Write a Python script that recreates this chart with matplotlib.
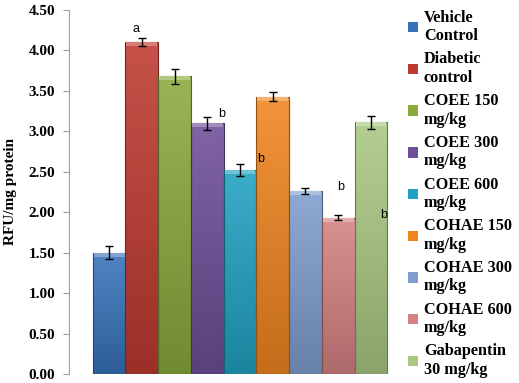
import numpy as np
import matplotlib
matplotlib.use("Agg")
import matplotlib.pyplot as plt
from matplotlib.colors import to_rgb

# data
groups = ["Vehicle\nControl", "Diabetic\ncontrol", "COEE 150\nmg/kg", "COEE 300\nmg/kg",
          "COEE 600\nmg/kg", "COHAE 150\nmg/kg", "COHAE 300\nmg/kg", "COHAE 600\nmg/kg",
          "Gabapentin\n30 mg/kg"]
values = [1.50, 4.10, 3.68, 3.10, 2.52, 3.43, 2.26, 1.93, 3.11]
errors = [0.08, 0.05, 0.09, 0.08, 0.07, 0.06, 0.04, 0.03, 0.08]
colors = ["#3873BA", "#BE3A30", "#8AAA3C", "#6E4E98", "#21A2C2",
          "#F08520", "#7E9ECE", "#D48282", "#AAC883"]

# significance letters: (text, x position in bar units, y value)
sig_labels = ["a", "b", "b", "b", "b"]
sig_x = [0.82, 3.45, 4.62, 7.06, 8.38]
sig_y = [4.26, 3.21, 2.66, 2.31, 1.97]

yticks = np.arange(0, 4.51, 0.5)

serif = "Liberation Serif"

fig = plt.figure(figsize=(5.19, 3.83), dpi=100)
ax = fig.add_axes([0.133, 0.0235, 0.659, 0.9505])

x = np.arange(len(values))
bars = ax.bar(x, values, width=1.0, color=colors, label=groups, zorder=2)

# fake the excel bevel look: vertical gradient clipped to every bar
for b, c in zip(bars, colors):
    rgb = np.array(to_rgb(c))
    t = np.linspace(0, 1, 64)[:, None]
    light = rgb + (1 - rgb) * 0.12
    dark = rgb * 0.82
    grad = light * (1 - t[..., None]) + dark * t[..., None]
    grad = np.repeat(grad, 2, axis=1)
    x0, y0 = b.get_x(), b.get_y()
    w, h = b.get_width(), b.get_height()
    im = ax.imshow(grad, extent=(x0, x0 + w, y0, y0 + h), origin="upper",
                   aspect="auto", zorder=3, interpolation="bilinear")
    im.set_clip_path(b)
    ax.bar(b.get_x() + w / 2, h, width=w, fill=False,
           edgecolor=tuple(rgb * 0.6), linewidth=0.8, zorder=4)
    # light band on top of the bar
    ax.bar(b.get_x() + w / 2, 0.05, bottom=h - 0.05, width=w * 0.94,
           color=tuple(rgb + (1 - rgb) * 0.35), linewidth=0, zorder=4)

ax.errorbar(x, values, yerr=errors, fmt="none", ecolor="black",
            elinewidth=1, capsize=3, capthick=1, zorder=5)

for s, sx, sy in zip(sig_labels, sig_x, sig_y):
    ax.text(sx, sy, s, fontsize=9, family="Liberation Sans",
            ha="center", va="center", zorder=6)

ax.set_xlim(-1.225, 9.225)
ax.set_ylim(0, 4.5)
ax.set_yticks(yticks)
ax.set_yticklabels([f"{v:.2f}" for v in yticks], fontsize=11,
                   family=serif, fontweight="bold")
ax.set_xticks([])
ax.tick_params(axis="y", direction="out", length=4, color="#A0A0A0", pad=6)
for side in ["top", "right", "bottom"]:
    ax.spines[side].set_visible(False)
ax.spines["left"].set_color("#A0A0A0")
ax.set_ylabel("RFU/mg protein", fontsize=11, family=serif,
              fontweight="bold", labelpad=8)

leg = fig.legend(handles=list(bars), labels=groups, loc="upper left",
                 bbox_to_anchor=(0.768, 1.0), frameon=False,
                 prop={"family": serif, "weight": "bold", "size": 11.7},
                 handlelength=0.6, handleheight=0.6, handletextpad=0.35,
                 labelspacing=0.45, borderaxespad=0.2)
for txt in leg.get_texts():
    txt.set_linespacing(1.2)

fig.savefig("out.png", dpi=100)
